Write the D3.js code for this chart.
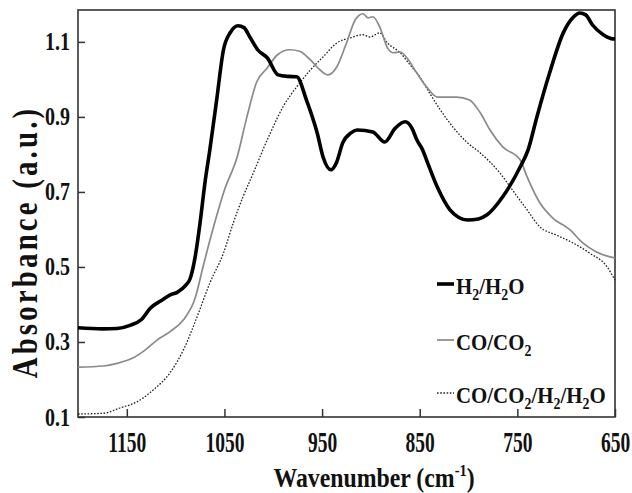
<!DOCTYPE html>
<html>
<head>
<meta charset="utf-8">
<script src="https://cdn.jsdelivr.net/npm/d3@7"></script>
<style>
  body { margin: 0; background: #fff; }
  text { font-family: "Liberation Serif", "Times New Roman", serif; font-weight: bold; fill: #111; }
</style>
</head>
<body>
<svg class="chart"></svg>
<script>
// FTIR spectra
var h2Wave = [1200, 1175, 1160, 1146, 1135, 1126, 1115, 1106, 1098, 1090, 1085, 1080, 1075, 1070, 1065, 1058, 1051, 1044, 1036, 1030, 1024, 1016, 1006, 995, 985, 976, 966, 955, 949, 941, 935, 929, 920, 914, 898, 886, 875, 865, 858, 853, 847, 843, 832, 819, 810, 801, 790, 781, 765, 747, 739, 730, 717, 703, 693, 686, 680, 673, 662, 652, 650];
var h2Abs = [0.338, 0.335, 0.336, 0.345, 0.36, 0.39, 0.41, 0.425, 0.433, 0.45, 0.47, 0.527, 0.617, 0.724, 0.812, 0.945, 1.079, 1.125, 1.143, 1.138, 1.113, 1.079, 1.057, 1.012, 1.008, 1.007, 0.945, 0.857, 0.793, 0.759, 0.78, 0.83, 0.858, 0.865, 0.86, 0.833, 0.87, 0.887, 0.87, 0.839, 0.812, 0.785, 0.713, 0.652, 0.632, 0.625, 0.628, 0.639, 0.687, 0.767, 0.812, 0.9, 1.017, 1.124, 1.165, 1.177, 1.172, 1.145, 1.119, 1.108, 1.108];

var coWave = [1200, 1174, 1160, 1144, 1131, 1119, 1106, 1092, 1080, 1072, 1062, 1050, 1037, 1027, 1017, 1006, 996, 983, 973, 962, 952, 944, 935, 925, 916, 908, 903, 898, 891, 883, 877, 870, 863, 853, 843, 832, 822, 812, 799, 788, 778, 765, 747, 740, 727, 714, 696, 683, 669, 655, 650];
var coAbs = [0.233, 0.236, 0.243, 0.257, 0.279, 0.305, 0.327, 0.359, 0.417, 0.5, 0.599, 0.705, 0.793, 0.9, 0.993, 1.031, 1.065, 1.079, 1.075, 1.052, 1.025, 1.012, 1.033, 1.097, 1.159, 1.175, 1.164, 1.167, 1.14, 1.084, 1.071, 1.073, 1.057, 1.017, 0.98, 0.953, 0.953, 0.953, 0.945, 0.911, 0.865, 0.82, 0.785, 0.74, 0.671, 0.631, 0.599, 0.564, 0.54, 0.527, 0.524];

var mixWave = [1200, 1174, 1157, 1140, 1123, 1106, 1092, 1078, 1065, 1051, 1041, 1031, 1019, 1011, 1003, 990, 976, 962, 949, 935, 921, 908, 901, 891, 883, 870, 860, 850, 840, 829, 816, 802, 788, 768, 755, 740, 727, 710, 693, 676, 658, 650];
var mixAbs = [0.108, 0.11, 0.124, 0.14, 0.172, 0.217, 0.279, 0.367, 0.457, 0.537, 0.617, 0.687, 0.759, 0.81, 0.857, 0.927, 0.98, 1.025, 1.06, 1.097, 1.111, 1.119, 1.113, 1.124, 1.097, 1.071, 1.039, 1.007, 0.964, 0.919, 0.873, 0.833, 0.804, 0.751, 0.705, 0.652, 0.607, 0.585, 0.564, 0.537, 0.5, 0.465];

var xTicks = [1150, 1050, 950, 850, 750, 650];
var yTicks = [0.1, 0.3, 0.5, 0.7, 0.9, 1.1];

var width = 632;
var height = 493;
var plotLeft = 78, plotRight = 615, plotTop = 10, plotBottom = 417;

var svg = d3.select(".chart").attr("width", width).attr("height", height);

var x_scale = d3.scaleLinear().domain([1200, 650]).range([plotLeft, plotRight]);
var y_scale = d3.scaleLinear().domain([0.1, 1.185]).range([plotBottom, plotTop]);

// axes, ticks pointing inward
var x_axis = d3.axisBottom(x_scale)
    .tickValues(xTicks)
    .tickFormat(d3.format("d"))
    .tickSizeInner(-8)
    .tickSizeOuter(0)
    .tickPadding(14);

var y_axis = d3.axisLeft(y_scale)
    .tickValues(yTicks)
    .tickFormat(d3.format(".1f"))
    .tickSizeInner(-7)
    .tickSizeOuter(0)
    .tickPadding(8);

var gx = svg.append("g")
    .attr("transform", "translate(0," + plotBottom + ")")
    .call(x_axis);
gx.select(".domain").remove();
gx.selectAll("line").attr("stroke", "#333").attr("stroke-width", 1.5);
gx.selectAll("text")
    .attr("font-size", 30)
    .attr("font-family", null)
    .attr("fill", "#111")
    .attr("transform", "scale(0.65,1)");

var gy = svg.append("g")
    .attr("transform", "translate(" + plotLeft + ",0)")
    .call(y_axis);
gy.select(".domain").remove();
gy.selectAll("line").attr("stroke", "#333").attr("stroke-width", 1.5);
gy.selectAll("text")
    .attr("font-size", 25)
    .attr("font-family", null)
    .attr("fill", "#111")
    .attr("x", -8 / 0.8)
    .attr("transform", "scale(0.8,1)");

// frame
svg.append("rect")
    .attr("x", plotLeft)
    .attr("y", plotTop)
    .attr("width", plotRight - plotLeft)
    .attr("height", plotBottom - plotTop)
    .attr("fill", "none")
    .attr("stroke", "#333")
    .attr("stroke-width", 1.6);

var line = d3.line()
    .x(function(d){ return x_scale(d[0]); })
    .y(function(d){ return y_scale(d[1]); })
    .curve(d3.curveMonotoneX);

var series = [
  {wave: mixWave, abs: mixAbs, color: "#222", w: 1.3, dash: "1.6,1.6"},
  {wave: coWave, abs: coAbs, color: "#8a8a8a", w: 1.7, dash: null},
  {wave: h2Wave, abs: h2Abs, color: "#000", w: 3.6, dash: null}
];

series.forEach(function(s){
  svg.append("path")
    .datum(d3.zip(s.wave, s.abs))
    .attr("d", line)
    .attr("fill", "none")
    .attr("stroke", s.color)
    .attr("stroke-width", s.w)
    .attr("stroke-dasharray", s.dash)
    .attr("stroke-linejoin", "round");
});

// legend
var legend = [
  {parts: [["H", 0], ["2", 1], ["/H", 0], ["2", 1], ["O", 0]], y: 294, s: series[2]},
  {parts: [["CO/CO", 0], ["2", 1]], y: 350, s: series[1]},
  {parts: [["CO/CO", 0], ["2", 1], ["/H", 0], ["2", 1], ["/H", 0], ["2", 1], ["O", 0]], y: 403, s: series[0]}
];

legend.forEach(function(l){
  svg.append("line")
    .attr("x1", 437).attr("x2", 454)
    .attr("y1", l.y - 10).attr("y2", l.y - 10)
    .attr("stroke", l.s.color)
    .attr("stroke-width", l.s.w)
    .attr("stroke-dasharray", l.s.dash);
  var t = svg.append("text")
    .attr("transform", "translate(456," + l.y + ") scale(0.87,1)")
    .attr("font-size", 24);
  var shift = 0;
  l.parts.forEach(function(p){
    var dy = p[1] ? 6 - shift : -shift;
    shift = p[1] ? 6 : 0;
    t.append("tspan")
      .attr("dy", dy)
      .attr("font-size", p[1] ? 16 : 24)
      .text(p[0]);
  });
});

// axis titles
var xt = svg.append("text")
    .attr("transform", "translate(374,487) scale(0.85,1)")
    .attr("text-anchor", "middle")
    .attr("font-size", 28);
xt.append("tspan").text("Wavenumber (cm");
xt.append("tspan").attr("dy", -11).attr("font-size", 17).text("-1");
xt.append("tspan").attr("dy", 11).text(")");

svg.append("text")
    .attr("transform", "translate(37,242) rotate(-90) scale(0.8,1)")
    .attr("text-anchor", "middle")
    .attr("font-size", 36)
    .attr("letter-spacing", 4)
    .text("Absorbance (a.u.)");
</script>
</body>
</html>
